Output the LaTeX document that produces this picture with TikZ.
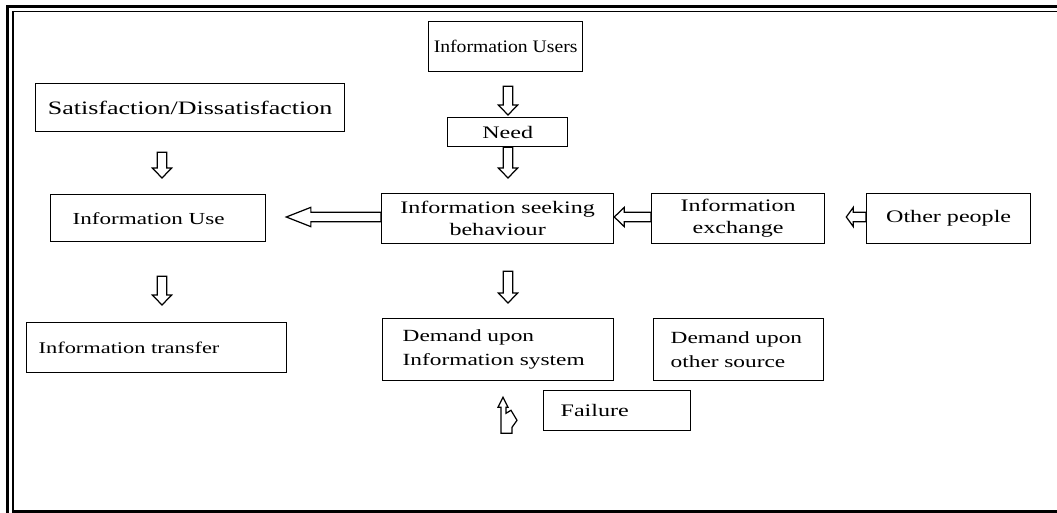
\documentclass[tikz,border=0pt]{standalone}
\usepackage{fontspec}
\setmainfont{Liberation Serif}[FakeStretch=1.37]
\newfontfamily\narrowfont{Liberation Serif}[FakeStretch=1.12]
\usetikzlibrary{calc}

\tikzset{
  box/.style={draw, line width=0.75pt, anchor=north west, inner sep=0pt,
    font=\fontsize{10}{12.5}\selectfont},
  leftbox/.style={box, align=left},
  arrowline/.style={line width=0.7pt, line join=miter},
}

% hollow block arrow: #1 head length, #2 start, #3 tip
\newcommand{\hollowarrow}[3][5.7pt]{%
  \draw[arrowline] let \p1=(#2), \p2=(#3),
    \n1={atan2((\y2)-(\y1),(\x2)-(\x1))}, \n2={\n1+90}, \n3={\n1-90}, \n4={\n1+180}
    in ($(\p2)+(\n4:#1)+(\n2:2.7pt)$) -- ($(\p1)+(\n2:2.7pt)$)
    -- ($(\p1)+(\n3:2.7pt)$) -- ($(\p2)+(\n4:#1)+(\n3:2.7pt)$)
    -- ($(\p2)+(\n4:#1)+(\n3:5.5pt)$) -- (\p2)
    -- ($(\p2)+(\n4:#1)+(\n2:5.5pt)$) -- cycle;}

\begin{document}
\begin{tikzpicture}[x=0.02cm, y=-0.02cm]
\useasboundingbox (0,0) rectangle (1057,513);

% frame
\draw[line width=1.7pt] (7.5,513) -- (7.5,6.5) -- (1057,6.5);
\draw[line width=0.95pt] (13,513) -- (13,11.5) -- (1057,11.5);
\draw[line width=1.5pt] (13,511.5) -- (1057,511.5);

% boxes
\node[box, font=\narrowfont\fontsize{10}{12}\selectfont, minimum width=3.08cm, minimum height=1cm] (users) at (428,21) {Information Users};
\node[box, minimum width=2.4cm, minimum height=0.58cm] (need) at (447,117) {Need};
\node[box, font=\fontsize{10.8}{13}\selectfont, minimum width=6.18cm, minimum height=0.96cm] (satis) at (35,83) {Satisfaction/Dissatisfaction};
\node[leftbox, font=\fontsize{9.6}{12}\selectfont, inner xsep=0.44cm, text width=3.42cm, minimum height=0.94cm] (use) at (50,194) {Information Use};
\node[box, align=center, minimum width=4.64cm, minimum height=1cm] (seek) at (381,193) {Information seeking\\behaviour};
\node[box, align=center, minimum width=3.46cm, minimum height=1cm] (exch) at (651,193) {Information\\exchange};
\node[box, minimum width=3.28cm, minimum height=1cm] (other) at (866,193) {Other people};
\node[leftbox, font=\fontsize{9.3}{12}\selectfont, inner xsep=0.24cm, text width=4.72cm, minimum height=1cm] (transfer) at (26,322) {Information transfer};
\node[leftbox, font=\fontsize{9.7}{13.5}\selectfont, inner xsep=0.4cm, text width=3.82cm, minimum height=1.24cm] (dsys) at (382,318) {Demand upon\\Information system};
\node[leftbox, font=\fontsize{9.7}{13.5}\selectfont, inner xsep=0.34cm, text width=2.72cm, minimum height=1.24cm] (dother) at (653,318) {Demand upon\\other source};
\node[leftbox, inner xsep=0.34cm, text width=2.26cm, minimum height=0.8cm] (failure) at (543,390) {Failure};

% arrow axes
\coordinate (mid) at (508,0);
\coordinate (leftax) at (162,0);
\coordinate (row) at (0,217);

% arrows
\hollowarrow{$(users.south -| mid)+(0,14)$}{$(need.north -| mid)+(0,-2)$}
\hollowarrow{need.south -| mid}{$(seek.north -| mid)+(0,-15)$}
\hollowarrow{$(satis.south -| leftax)+(0,20)$}{$(use.north -| leftax)+(0,-16)$}
\hollowarrow{$(use.south -| leftax)+(0,34)$}{$(transfer.north -| leftax)+(0,-17)$}
\hollowarrow[14pt]{seek.west |- row}{$(use.east |- row)+(20,0)$}
\hollowarrow{exch.west |- row}{seek.east |- row}
\hollowarrow[4pt]{other.west |- row}{$(exch.east |- row)+(21,0)$}
\hollowarrow{$(seek.south -| mid)+(0,27)$}{$(dsys.north -| mid)+(0,-15)$}

% failure loop arrow
\coordinate (uturn) at ($(dsys.south -| mid)+(-5,16)$);
\draw[arrowline] (uturn) -- ++(5,10) -- ++(-2,0) -- ++(0,6) -- ++(5,-3)
  -- ++(6,10) -- ++(-5,7) -- ++(0,6) -- ++(-11,0) -- ++(0,-26) -- ++(-3,0) -- cycle;
\end{tikzpicture}
\end{document}
